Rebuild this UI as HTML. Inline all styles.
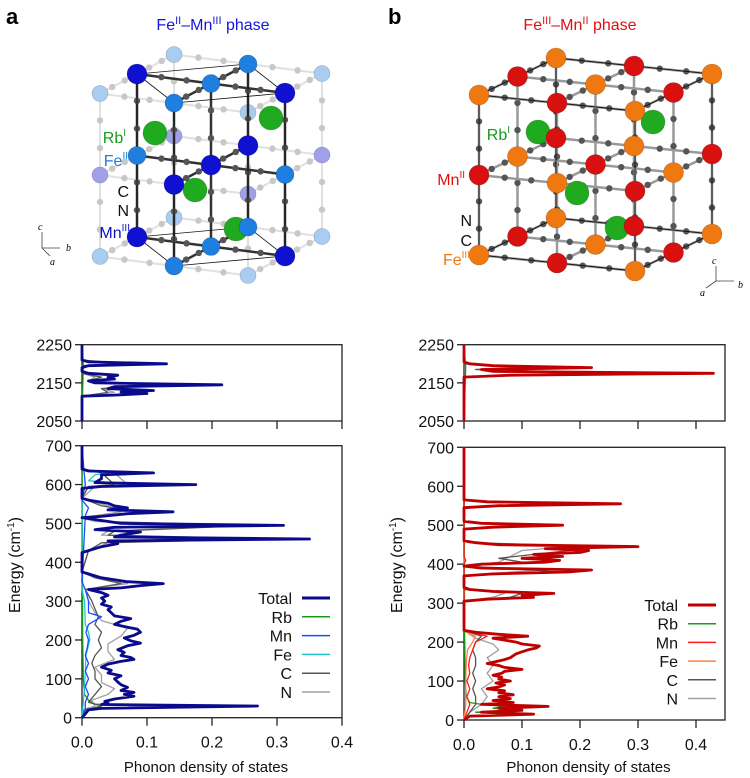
<!DOCTYPE html>
<html><head><meta charset="utf-8"><style>
html,body{margin:0;padding:0;background:#fff;}
svg{display:block;font-family:"Liberation Sans",sans-serif;}
</style></head><body>
<svg id="fig" width="750" height="778" viewBox="0 0 750 778">
<text x="6" y="24" font-size="22" font-weight="bold">a</text>
<text x="388" y="24" font-size="22" font-weight="bold">b</text>
<text x="213" y="30" font-size="16" fill="#1515e0" text-anchor="middle">Fe<tspan font-size="11" dy="-6">II</tspan><tspan dy="6">–Mn</tspan><tspan font-size="11" dy="-6">III</tspan><tspan dy="6"> phase</tspan></text>
<text x="580" y="30" font-size="16" fill="#e01010" text-anchor="middle">Fe<tspan font-size="11" dy="-6">III</tspan><tspan dy="6">–Mn</tspan><tspan font-size="11" dy="-6">II</tspan><tspan dy="6"> phase</tspan></text>
<g id="crystA"></g>
<g id="crystB"></g>
<g id="chartA"></g>
<g id="chartB"></g>
</svg>
<script>
const aTotalLow=[[0,0],[10,0.005],[20,0.01],[24,0.03],[30,0.27],[34,0.03],[38,0.04],[42,0.035],[48,0.05],[55,0.08],[60,0.065],[65,0.08],[70,0.06],[78,0.07],[85,0.06],[92,0.055],[100,0.05],[108,0.06],[115,0.04],[122,0.045],[130,0.03],[138,0.04],[145,0.06],[150,0.08],[155,0.075],[160,0.06],[168,0.065],[175,0.055],[185,0.07],[192,0.09],[198,0.075],[205,0.065],[212,0.08],[220,0.09],[228,0.085],[233,0.07],[240,0.05],[248,0.06],[255,0.075],[262,0.05],[270,0.045],[278,0.04],[285,0.045],[292,0.03],[300,0.035],[308,0.03],[315,0.04],[322,0.03],[330,0.01],[334,0.06],[340,0.09],[345,0.125],[350,0.07],[360,0.03],[370,0.01],[375,0],[425,0],[430,0.01],[440,0.03],[448,0.055],[455,0.04],[460,0.35],[465,0.05],[470,0.06],[478,0.09],[484,0.02],[490,0.05],[495,0.31],[500,0.06],[510,0.02],[515,0],[518,0.03],[525,0.07],[530,0.14],[535,0.04],[540,0.07],[545,0.05],[552,0.04],[560,0.01],[565,0],[590,0],[595,0.03],[600,0.175],[605,0.02],[615,0.03],[625,0.03],[630,0.11],[635,0.01],[640,0],[700,0]];
const aCLow=[[0,0],[20,0.005],[30,0.03],[40,0.01],[60,0.02],[80,0.03],[100,0.02],[120,0.02],[140,0.015],[160,0.02],[180,0.03],[200,0.025],[220,0.03],[240,0.02],[260,0.025],[280,0.02],[300,0.015],[330,0.005],[345,0.06],[360,0.02],[375,0],[430,0.01],[450,0.03],[460,0.29],[470,0.04],[480,0.05],[495,0.26],[505,0.03],[515,0],[530,0.09],[545,0.03],[565,0],[595,0.01],[600,0.05],[630,0.03],[640,0],[700,0]];
const aNLow=[[0,0],[20,0.005],[30,0.02],[45,0.015],[60,0.04],[75,0.05],[90,0.03],[110,0.03],[130,0.02],[150,0.05],[170,0.04],[190,0.04],[210,0.06],[230,0.07],[250,0.03],[270,0.02],[300,0.01],[330,0.005],[345,0.07],[360,0.02],[375,0],[430,0.01],[450,0.04],[460,0.25],[470,0.03],[480,0.04],[495,0.22],[505,0.02],[515,0],[530,0.06],[545,0.04],[565,0],[595,0.02],[600,0.07],[630,0.05],[640,0],[700,0]];
const aMnLow=[[0,0],[20,0.005],[40,0.005],[60,0.01],[80,0.005],[100,0.01],[120,0.005],[140,0.01],[160,0.005],[180,0.008],[200,0.01],[220,0.006],[240,0.01],[260,0.03],[270,0.01],[300,0.01],[330,0.005],[350,0],[520,0.005],[540,0.01],[560,0],[600,0.005],[635,0.003],[700,0]];
const aFeLow=[[0,0],[40,0.002],[80,0.004],[120,0.005],[160,0.006],[200,0.012],[220,0.01],[240,0.005],[300,0.004],[330,0],[590,0],[600,0.08],[610,0.01],[625,0.02],[630,0.04],[640,0],[700,0]];
const aRbLow=[[0,0],[20,0.003],[25,0.01],[30,0.25],[35,0.02],[45,0.01],[60,0.004],[100,0.002],[200,0.001],[700,0]];
const aTotalHigh=[[2050,0],[2115,0],[2118,0.05],[2122,0.1],[2126,0.06],[2130,0.11],[2135,0.04],[2140,0.05],[2145,0.215],[2150,0.02],[2155,0.01],[2160,0.05],[2165,0.04],[2170,0.055],[2175,0.01],[2180,0],[2190,0],[2195,0.01],[2200,0.13],[2205,0.01],[2210,0],[2250,0]];
const aCHigh=[[2050,0],[2115,0],[2125,0.04],[2135,0.03],[2145,0.12],[2155,0.01],[2165,0.03],[2175,0],[2195,0],[2200,0.07],[2210,0],[2250,0]];
const aNHigh=[[2050,0],[2115,0],[2125,0.05],[2135,0.03],[2145,0.09],[2155,0.01],[2165,0.02],[2175,0],[2195,0],[2200,0.05],[2210,0],[2250,0]];

const bTotalLow=[[0,0],[10,0.01],[15,0.12],[20,0.03],[25,0.1],[30,0.06],[35,0.145],[40,0.03],[45,0.085],[50,0.05],[55,0.08],[60,0.06],[65,0.085],[70,0.06],[75,0.07],[80,0.04],[85,0.06],[90,0.07],[95,0.055],[100,0.08],[105,0.06],[110,0.065],[115,0.05],[120,0.065],[125,0.07],[130,0.1],[135,0.07],[140,0.06],[145,0.04],[150,0.055],[155,0.07],[160,0.08],[165,0.085],[170,0.09],[175,0.1],[180,0.11],[185,0.125],[190,0.13],[195,0.1],[200,0.09],[205,0.07],[210,0.05],[215,0.11],[220,0.06],[225,0.02],[230,0],[305,0],[310,0.04],[315,0.12],[320,0.1],[325,0.155],[330,0.05],[335,0.01],[340,0],[370,0],[375,0.05],[380,0.18],[385,0.22],[390,0.03],[395,0],[400,0.03],[405,0.14],[410,0.165],[415,0.1],[420,0.17],[425,0.12],[430,0.2],[435,0.215],[440,0.14],[445,0.3],[450,0.06],[455,0.02],[460,0],[490,0],[495,0.05],[500,0.17],[505,0.03],[510,0],[545,0],[550,0.06],[555,0.27],[560,0.04],[565,0],[700,0]];
const bCLow=[[0,0],[20,0.01],[40,0.02],[60,0.02],[80,0.015],[100,0.02],[120,0.015],[140,0.02],[160,0.02],[180,0.015],[200,0.02],[215,0.03],[230,0],[305,0],[315,0.08],[325,0.1],[335,0],[370,0],[380,0.16],[385,0.12],[395,0],[405,0.1],[415,0.06],[430,0.15],[445,0.25],[455,0.01],[460,0],[700,0]];
const bNLow=[[0,0],[20,0.01],[40,0.03],[60,0.04],[80,0.03],[100,0.05],[120,0.04],[140,0.05],[160,0.04],[180,0.06],[195,0.05],[210,0.02],[230,0],[305,0],[315,0.05],[325,0.07],[335,0],[370,0],[380,0.08],[385,0.14],[395,0],[405,0.06],[420,0.08],[435,0.1],[445,0.18],[455,0.01],[460,0],[700,0]];
const bMnLow=[[0,0],[20,0.005],[40,0.01],[60,0.005],[80,0.01],[100,0.005],[120,0.01],[140,0.008],[160,0.01],[180,0.015],[200,0.02],[215,0.04],[225,0.01],[230,0],[400,0],[410,0.003],[420,0],[700,0]];
const bFeLow=[[0,0],[40,0.003],[100,0.003],[150,0.004],[180,0.006],[200,0.015],[215,0.02],[225,0.005],[230,0],[490,0],[500,0.075],[510,0],[545,0],[555,0.125],[565,0],[700,0]];
const bRbLow=[[0,0],[10,0.005],[15,0.08],[20,0.02],[25,0.1],[30,0.05],[35,0.07],[40,0.03],[45,0.01],[60,0.004],[100,0.002],[230,0.001],[700,0]];
const bTotalHigh=[[2050,0],[2165,0],[2170,0.08],[2175,0.43],[2180,0.05],[2185,0.03],[2190,0.22],[2195,0.05],[2200,0.01],[2205,0],[2250,0]];
const bCHigh=[[2050,0],[2165,0],[2175,0.24],[2185,0.02],[2190,0.125],[2200,0],[2250,0]];
const bNHigh=[[2050,0],[2165,0],[2175,0.19],[2185,0.02],[2190,0.09],[2200,0],[2250,0]];
const xTicks=[0,0.1,0.2,0.3,0.4];
const xTickLabels=["0.0","0.1","0.2","0.3","0.4"];
const yTicksLow=[0,100,200,300,400,500,600,700];
const yTicksHigh=[2050,2150,2250];
const legendNames=["Total","Rb","Mn","Fe","C","N"];

const NS="http://www.w3.org/2000/svg";
function mk(parent,tag,attrs,text){const e=document.createElementNS(NS,tag);for(const k in attrs)e.setAttribute(k,attrs[k]);if(text!==undefined)e.textContent=text;parent.appendChild(e);return e;}

function drawChart(g,cfg){
  const xs=v=>cfg.x0+(v/0.1)*cfg.xStep;
  const yLow=e=>cfg.lowBot-(e/700)*(cfg.lowBot-cfg.lowTop);
  const yHigh=e=>cfg.highBot-((e-2050)/200)*(cfg.highBot-cfg.highTop);
  let r=mk(g,'rect',{x:cfg.x0,y:cfg.highTop,width:cfg.x1-cfg.x0,height:cfg.highBot-cfg.highTop,fill:'none',stroke:'#222','stroke-width':1.3});
  
  
  r=mk(g,'rect',{x:cfg.x0,y:cfg.lowTop,width:cfg.x1-cfg.x0,height:cfg.lowBot-cfg.lowTop,fill:'none',stroke:'#222','stroke-width':1.3});
  
  
  xTicks.forEach((t,i)=>{
    const x=xs(t);
    mk(g,'line',{x1:x,x2:x,y1:cfg.highBot,y2:cfg.highBot+8,stroke:'#222','stroke-width':1.3});
    mk(g,'line',{x1:x,x2:x,y1:cfg.lowBot,y2:cfg.lowBot+8,stroke:'#222','stroke-width':1.3});
    const tl=mk(g,'text',{x:x,y:cfg.lowBot+30,'font-size':16,'text-anchor':'middle',fill:'#111'},xTickLabels[i]);
    
    
  });
  yTicksLow.forEach(t=>{
    const y=yLow(t);
    mk(g,'line',{x1:cfg.x0-7,x2:cfg.x0,y1:y,y2:y,stroke:'#222','stroke-width':1.3});
    const tl=mk(g,'text',{x:cfg.x0-10,y:y+6,'font-size':16,'text-anchor':'end',fill:'#111'},String(t));
    
    
  });
  yTicksHigh.forEach(t=>{
    const y=yHigh(t);
    mk(g,'line',{x1:cfg.x0-7,x2:cfg.x0,y1:y,y2:y,stroke:'#222','stroke-width':1.3});
    const tl=mk(g,'text',{x:cfg.x0-10,y:y+6,'font-size':16,'text-anchor':'end',fill:'#111'},String(t));
    
    
  });
  const xt=mk(g,'text',{x:(cfg.x0+cfg.x1)/2-6,y:772,'font-size':15,'text-anchor':'middle',fill:'#111'},'Phonon density of states');
  
  
  const yt=mk(g,'text',{transform:`translate(${cfg.yTitleX},565) rotate(-90)`,'font-size':16,'text-anchor':'middle',fill:'#111'});
  yt.innerHTML='Energy (cm<tspan font-size="10" dy="-6">-1</tspan><tspan dy="6">)</tspan>';
  
  
  cfg.series.forEach(s=>{
    [[s.low,yLow],[s.high,yHigh]].forEach(([d,yf])=>{
      if(!d)return;
      const p=mk(g,'polyline',{points:d.map(q=>xs(q[1]).toFixed(1)+','+yf(q[0]).toFixed(1)).join(' '),fill:'none',stroke:s.color,'stroke-width':s.w,'stroke-linejoin':'round'});
      
      
    });
  });
  legendNames.forEach((n,i)=>{
    const s=cfg.series.find(q=>q.name===n);
    const y=cfg.legY+i*cfg.legDy;
    const t=mk(g,'text',{x:cfg.legX,y:y+6,'font-size':16,'text-anchor':'end',fill:'#111'},n);
    
    
    const l=mk(g,'line',{x1:cfg.legX+10,x2:cfg.legX+38,y1:y,y2:y,stroke:s.color,'stroke-width':n==='Total'?3:1.5});
    
    
  });
}

drawChart(document.getElementById('chartA'),{x0:82,x1:342,xStep:65,highTop:344.7,highBot:421,lowTop:445.7,lowBot:717.7,yTitleX:20,legX:292,legY:598,legDy:18.8,
 series:[{name:'Rb',color:'#1a9a1a',w:1.3,low:aRbLow,high:[[2050,0],[2200,0.002],[2250,0]]},
  {name:'N',color:'#a0a0a0',w:1.3,low:aNLow,high:aNHigh},
  {name:'C',color:'#555',w:1.3,low:aCLow,high:aCHigh},
  {name:'Fe',color:'#20c8c8',w:1.3,low:aFeLow},
  {name:'Mn',color:'#1a4cff',w:1.3,low:aMnLow},
  {name:'Total',color:'#0a0a8c',w:2.8,low:aTotalLow,high:aTotalHigh}]});
drawChart(document.getElementById('chartB'),{x0:464,x1:725,xStep:58,highTop:344.7,highBot:421,lowTop:447.3,lowBot:720,yTitleX:402,legX:678,legY:605,legDy:18.7,
 series:[{name:'Rb',color:'#1a9a1a',w:1.3,low:bRbLow,high:[[2050,0],[2190,0.003],[2250,0]]},
  {name:'N',color:'#a0a0a0',w:1.3,low:bNLow,high:bNHigh},
  {name:'C',color:'#555',w:1.3,low:bCLow,high:bCHigh},
  {name:'Fe',color:'#ff8040',w:1.3,low:bFeLow},
  {name:'Mn',color:'#ff1a1a',w:1.3,low:bMnLow},
  {name:'Total',color:'#c00000',w:2.8,low:bTotalLow,high:bTotalHigh}]});

function bond(g,p,q,col,faded){
  mk(g,'line',{x1:p[0],y1:p[1],x2:q[0],y2:q[1],stroke:col,'stroke-width':faded?2:2.5,opacity:faded?0.45:1});
  [0.33,0.67].forEach(f=>mk(g,'circle',{cx:p[0]+(q[0]-p[0])*f,cy:p[1]+(q[1]-p[1])*f,r:3.2,fill:faded?'#c8c8c8':'#555'}));
}
function ball(g,p,r,col,name){
  const c=mk(g,'circle',{cx:p[0],cy:p[1],r:r,fill:col,stroke:'rgba(0,0,0,0.25)','stroke-width':0.6});
  
  
}
function label(g,x,y,txt,sup,col,name){
  const t=mk(g,'text',{x:x,y:y,'font-size':16,fill:col,'text-anchor':'end'});
  t.innerHTML=txt+(sup?'<tspan font-size="10" dy="-7">'+sup+'</tspan>':'');
  
  
}
(function(){
  const g=document.getElementById('crystA');
  const P=(i,j,k)=>[137+37*i/2+111*j/2,237+29*i/2-10*j/2-163*k/2];
  const sites=[];
  for(let i=-1;i<=3;i++)for(let j=-1;j<=3;j++)for(let k=0;k<=2;k++){
    if(Math.abs((i+j)%2)===1)continue;
    if(Math.abs(i-1)+Math.abs(j-1)>2)continue;
    sites.push([i,j,k]);
  }
  const inner=s=>s[0]>=0&&s[0]<=2&&s[1]>=0&&s[1]<=2;
  const has=(i,j,k)=>sites.some(s=>s[0]===i&&s[1]===j&&s[2]===k);
  [false,true].forEach(pass=>{
    sites.forEach(s=>{
      [[1,1,0],[1,-1,0],[0,0,1]].forEach(d=>{
        const t=[s[0]+d[0],s[1]+d[1],s[2]+d[2]];
        if(!has(...t))return;
        const solid=inner(s)&&inner(t);
        if(solid!==pass)return;
        bond(g,P(...s),P(...t),solid?'#333':'#bbb',!solid);
      });
    });
    if(!pass){
      sites.filter(s=>!inner(s)).forEach(s=>{
        const mn=(((s[0]+s[1])/2+s[2])%2+2)%2===0;
        ball(g,P(...s),8,mn?'#a9cdf0':'#a0a0e8','lattice-site');
      });
    }
  });
  const c=[[0,0],[2,0],[2,2],[0,2]];
  [0,2].forEach(k=>{mk(g,'polygon',{points:c.map(q=>P(q[0],q[1],k).join(',')).join(' '),fill:'none',stroke:'#111','stroke-width':0.8});});
  c.forEach(q=>mk(g,'line',{x1:P(q[0],q[1],0)[0],y1:P(q[0],q[1],0)[1],x2:P(q[0],q[1],2)[0],y2:P(q[0],q[1],2)[1],stroke:'#111','stroke-width':0.8}));
  [[155,133],[271,118],[195,190],[236,229]].forEach(p=>ball(g,p,12,'#1faa1f','rb-atom'));
  sites.filter(inner).forEach(s=>{
    const mn=(((s[0]+s[1])/2+s[2])%2+2)%2===0;
    ball(g,P(...s),mn?10:9,mn?'#1010d0':'#1e7fe0',mn?'mn-atom':'fe-atom');
  });
  label(g,126,143,'Rb','I','#1a9a1a','label-rb');
  label(g,128,166,'Fe','II','#1e7fe0','label-fe');
  label(g,129,197,'C','','#111','label-c');
  label(g,129,216,'N','','#111','label-n');
  label(g,130,238,'Mn','III','#1010d0','label-mn');
  mk(g,'path',{d:'M42 248 V232 M42 248 H60 M42 248 L50 256',stroke:'#444','stroke-width':0.8,fill:'none'});
  mk(g,'text',{x:38,y:230,'font-size':10,'font-style':'italic','font-family':'Liberation Serif'},'c');
  mk(g,'text',{x:66,y:251,'font-size':10,'font-style':'italic','font-family':'Liberation Serif'},'b');
  mk(g,'text',{x:50,y:265,'font-size':10,'font-style':'italic','font-family':'Liberation Serif'},'a');
})();
(function(){
  const g=document.getElementById('crystB');
  const P=(i,j,k)=>[556-77*i/2+156*j/2,218+37*i/2+16*j/2-160*k/2];
  const sites=[];
  for(let i=0;i<=2;i++)for(let j=0;j<=2;j++)for(let k=0;k<=2;k++)sites.push([i,j,k]);
  sites.forEach(s=>{
    [[1,0,0],[0,1,0],[0,0,1]].forEach(d=>{
      const t=[s[0]+d[0],s[1]+d[1],s[2]+d[2]];
      if(t[0]>2||t[1]>2||t[2]>2)return;
      bond(g,P(...s),P(...t),'#999',false);
    });
  });
  const c=[[0,0],[0,2],[2,2],[2,0]];
  [0,2].forEach(k=>{mk(g,'polygon',{points:c.map(q=>P(q[0],q[1],k).join(',')).join(' '),fill:'none',stroke:'#111','stroke-width':0.9});});
  c.forEach(q=>mk(g,'line',{x1:P(q[0],q[1],0)[0],y1:P(q[0],q[1],0)[1],x2:P(q[0],q[1],2)[0],y2:P(q[0],q[1],2)[1],stroke:'#111','stroke-width':0.9}));
  [[538,132],[653,122],[577,193],[617,228]].forEach(p=>ball(g,p,12,'#1faa1f','rb-atom'));
  sites.slice().sort((a,b)=>a[0]-b[0]).forEach(s=>{
    const fe=(s[0]+s[1]+s[2])%2===0;
    ball(g,P(...s),10,fe?'#f07810':'#d81010',fe?'fe-atom':'mn-atom');
  });
  label(g,510,140,'Rb','I','#1a9a1a','label-rb');
  label(g,465,185,'Mn','II','#e01010','label-mn');
  label(g,472,226,'N','','#111','label-n');
  label(g,472,246,'C','','#111','label-c');
  label(g,470,265,'Fe','III','#f07810','label-fe');
  mk(g,'path',{d:'M716 281 V266 M716 281 H734 M716 281 L706 288',stroke:'#444','stroke-width':0.8,fill:'none'});
  mk(g,'text',{x:712,y:264,'font-size':10,'font-style':'italic','font-family':'Liberation Serif'},'c');
  mk(g,'text',{x:738,y:288,'font-size':10,'font-style':'italic','font-family':'Liberation Serif'},'b');
  mk(g,'text',{x:700,y:296,'font-size':10,'font-style':'italic','font-family':'Liberation Serif'},'a');
})();
</script>
</body></html>
